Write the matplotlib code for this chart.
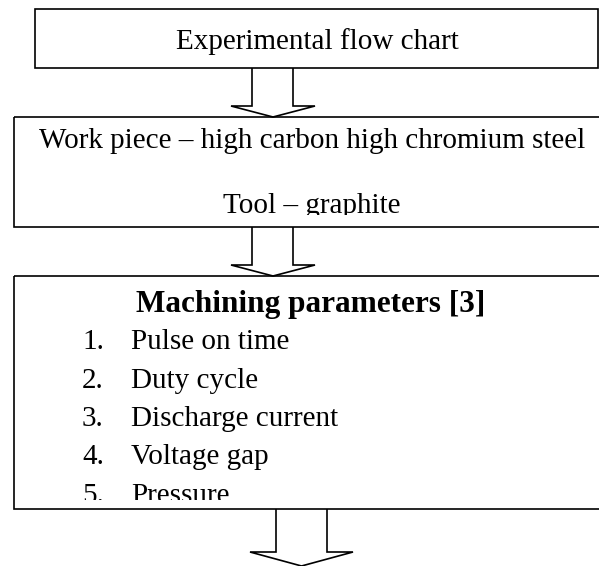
import matplotlib.pyplot as plt
from matplotlib.patches import Rectangle, Polygon

# texts of the flow chart
title_text = "Experimental flow chart"
material_lines = ["Work piece \u2013 high carbon high chromium steel", "Tool \u2013 graphite"]
params_title = "Machining parameters [3]"
params_items = ["Pulse on time", "Duty cycle", "Discharge current", "Voltage gap", "Pressure"]

plt.rcParams['font.family'] = ['Liberation Serif', 'DejaVu Serif']

fig = plt.figure(figsize=(5.99, 5.66), dpi=100)
ax = fig.add_axes([0, 0, 1, 1])
ax.set_xlim(0, 599)
ax.set_ylim(566, 0)
ax.axis('off')

lw = 1.2
fs = 21


def box(x0, y0, x1, y1, cut=None):
    r = Rectangle((x0, y0), x1 - x0, y1 - y0, fill=False, edgecolor='black',
                  linewidth=lw, zorder=5)
    ax.add_patch(r)
    if cut is not None:
        # text overflowing the box is hidden below this line, like a word text box
        ax.add_patch(Rectangle((x0, cut), x1 - x0, y1 - cut, facecolor='white',
                               edgecolor='none', zorder=4))
    return r


def arrow(xl, xr, hl, hr, y0, yh, ytip):
    xc = (hl + hr) / 2
    pts = [(xl, y0), (xl, yh), (hl, yh), (xc, ytip), (hr, yh), (xr, yh), (xr, y0)]
    ax.add_patch(Polygon(pts, closed=False, fill=False, edgecolor='black', linewidth=lw))


# box 1
box(35, 9, 598, 68)
ax.text(317, 49, title_text, ha='center', va='baseline', fontsize=fs)
arrow(252, 293, 231, 315, 68, 106, 117)

# box 2
box(14, 117, 610, 227, cut=215)
ys = [148, 213]
for y, s in zip(ys, material_lines):
    ax.text(312, y, s, ha='center', va='baseline', fontsize=fs)
arrow(252, 293, 231, 315, 227, 265, 276)

# box 3
box(14, 276, 610, 509, cut=500)
ax.text(311, 312, params_title, ha='center', va='baseline', fontsize=22.5, fontweight='bold')
for i, s in enumerate(params_items):
    y = 349 + i * 38.5
    ax.text(82, y, f"{i + 1}.", ha='left', va='baseline', fontsize=fs)
    ax.text(131, y, s, ha='left', va='baseline', fontsize=fs)
arrow(276, 327, 250, 353, 509, 552, 566)

fig.savefig('out.png', dpi=100)
